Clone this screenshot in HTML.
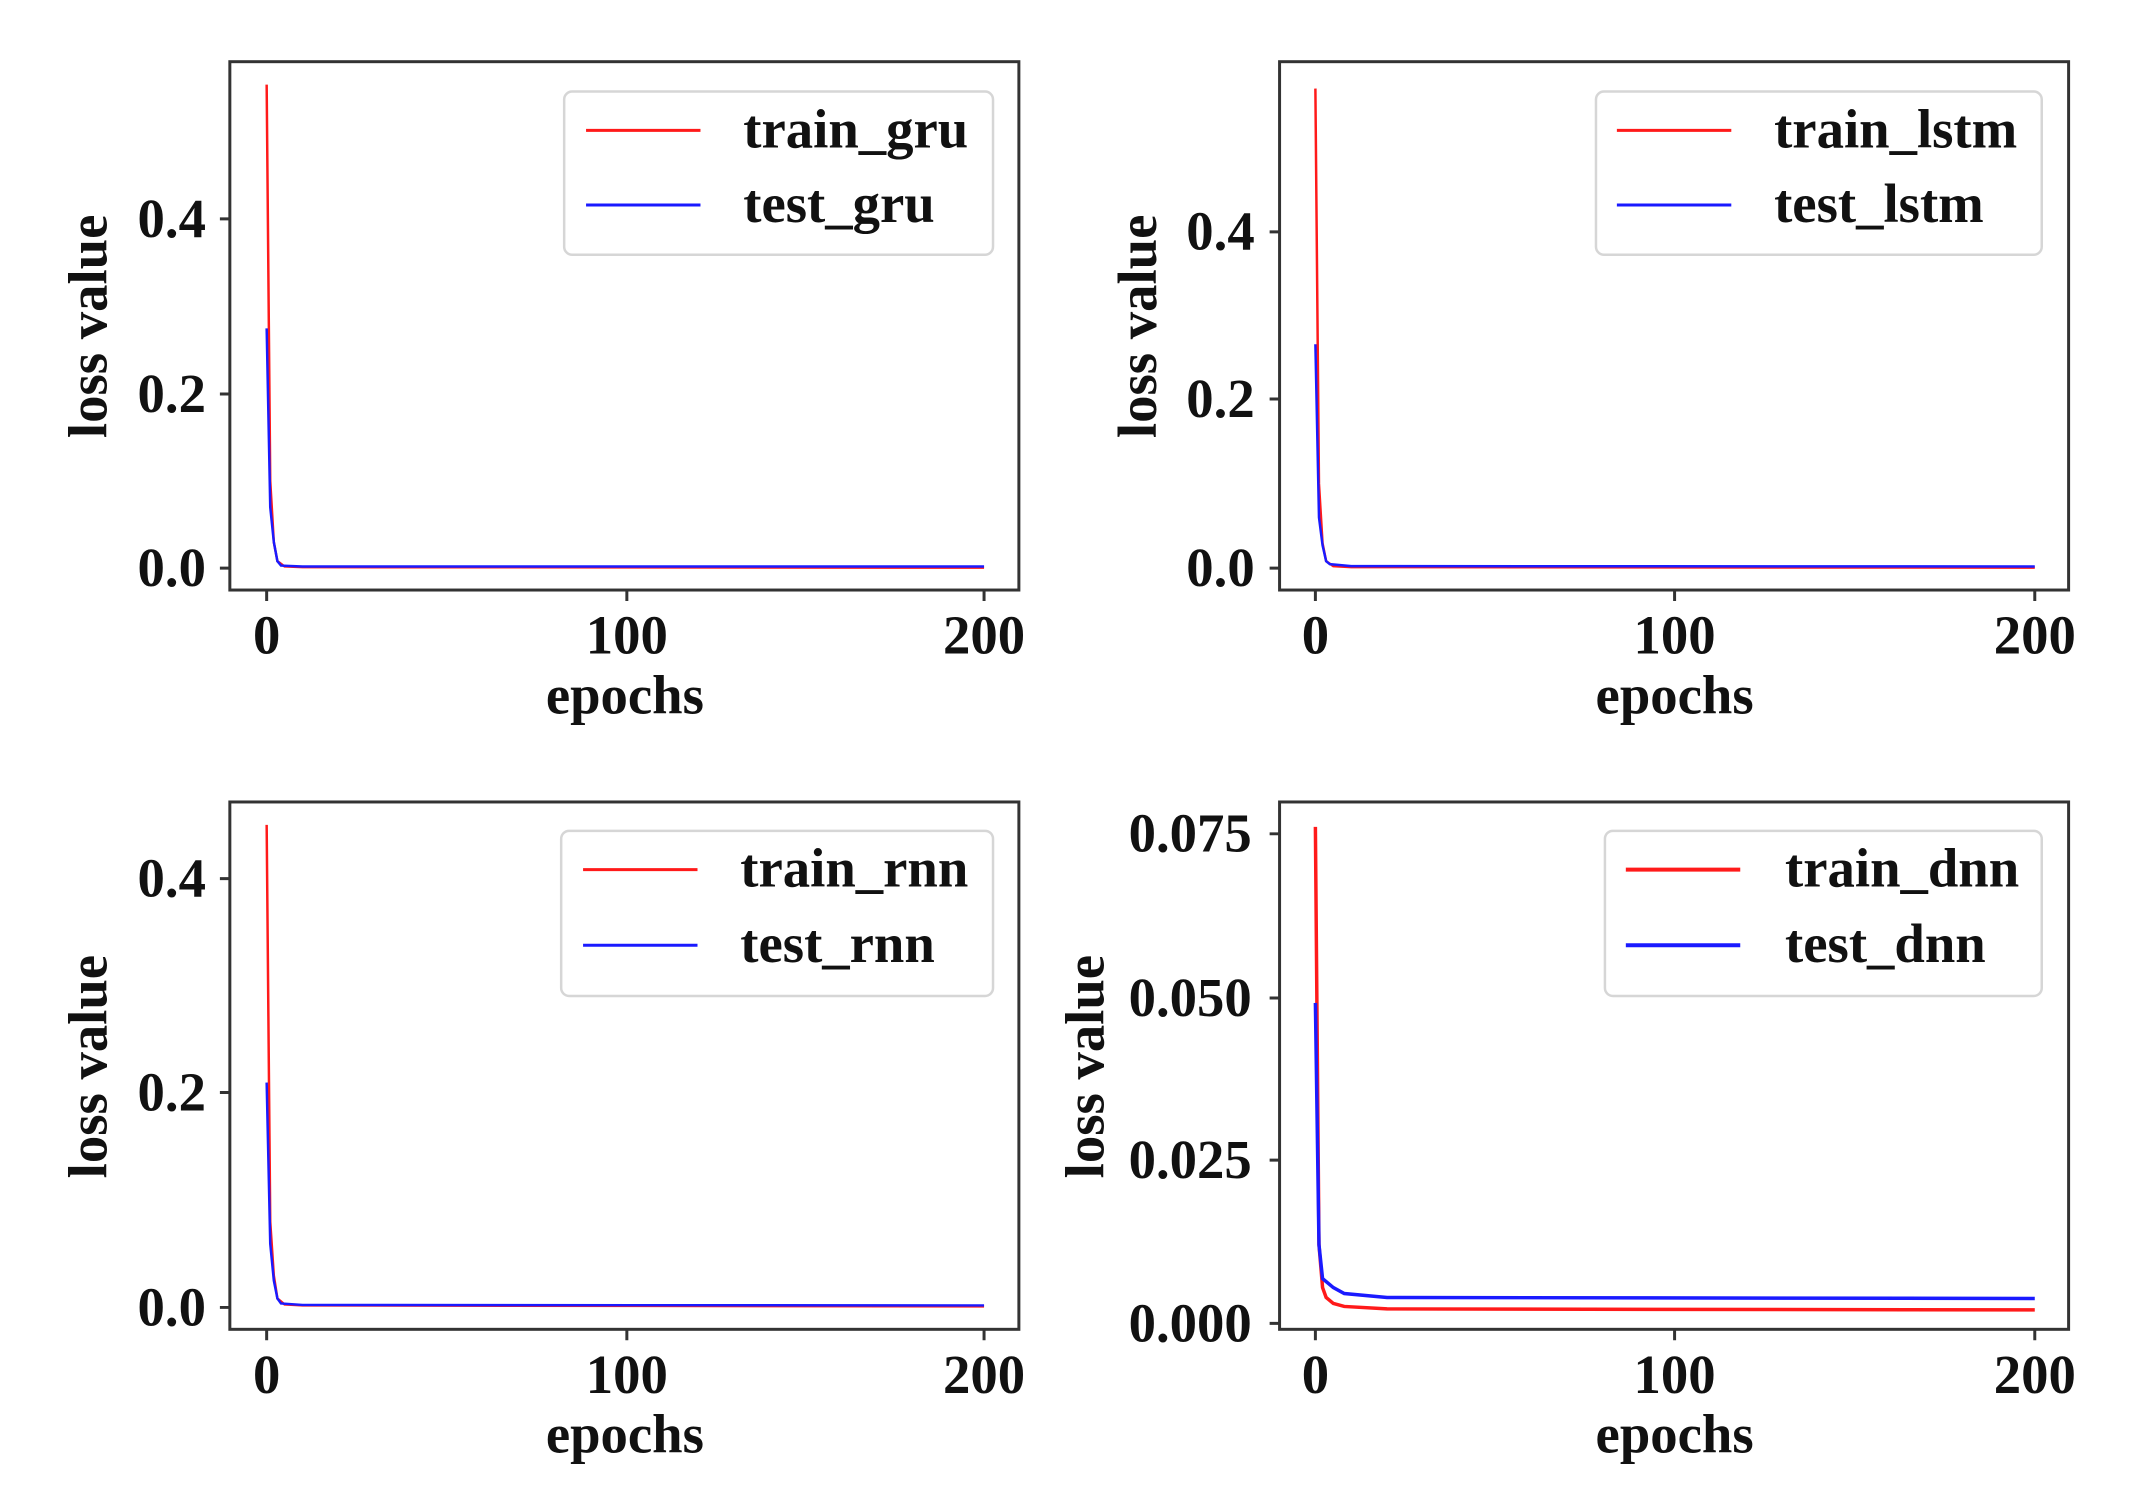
<!DOCTYPE html>
<html><head><meta charset="utf-8"><style>
html,body{margin:0;padding:0;background:#fff}
svg{display:block}
text{font-family:"Liberation Serif",serif;font-weight:bold;fill:#111;font-size:55px}
</style></head><body>
<svg width="2135" height="1507" viewBox="0 0 2135 1507" xmlns="http://www.w3.org/2000/svg">
<g transform="scale(0.995)">
<g fill="none" stroke-width="2.5">
<polyline stroke="#ff1a1a" points="268,85 271.6,483.5 275.2,544.8 278.8,564 286,569.3 304,570 989,570.5"/>
<polyline stroke="#1a1aff" points="268,330 271.6,509.8 275.2,544.8 278.8,564 282.4,568.4 304,569.3 989,569.3"/>
<polyline stroke="#ff1a1a" points="1322,89 1325.6,486 1329.2,546 1332.8,564 1340,569 1358,570 2045,570.5"/>
<polyline stroke="#1a1aff" points="1322,346 1325.6,520 1329.2,548 1332.8,564 1336.5,567 1358,569 2045,569.3"/>
<polyline stroke="#ff1a1a" points="268,829 271.6,1228 275.2,1282 278.8,1305 286,1311 304,1312 989,1313"/>
<polyline stroke="#1a1aff" points="268,1088 271.6,1250 275.2,1287 278.8,1305 282.4,1310 304,1311.5 989,1312"/>
<polyline stroke="#ff1a1a" stroke-width="3.5" points="1322,831 1325.6,1251 1329.2,1294 1332.8,1304 1340,1310 1351,1313 1394,1315.5 2045,1316.5"/>
<polyline stroke="#1a1aff" stroke-width="3.5" points="1322,1008 1325.6,1251 1329.2,1285 1340,1294 1351,1300 1394,1304 2045,1305"/>
</g>
<g fill="none" stroke="#333" stroke-width="3">
<rect x="231" y="62" width="793" height="531"/>
<rect x="1286" y="62" width="793" height="531"/>
<rect x="231" y="806" width="793" height="530"/>
<rect x="1286" y="806" width="793" height="530"/>
<path d="M268,593v11M630,593v11M989,593v11M221,571h10M221,396h10M221,220h10"/>
<path d="M1322,593v11M1683,593v11M2045,593v11M1276,571h10M1276,401h10M1276,233h10"/>
<path d="M268,1336v11M630,1336v11M989,1336v11M221,1314h10M221,1098h10M221,883h10"/>
<path d="M1322,1336v11M1683,1336v11M2045,1336v11M1276,1330h10M1276,1166h10M1276,1003h10M1276,838h10"/>
</g>
<g fill="#fff" stroke="#d6d6d6" stroke-width="2.5">
<rect x="567" y="92" width="431" height="164" rx="8"/>
<rect x="1604" y="92" width="448" height="164" rx="8"/>
<rect x="564" y="835" width="434" height="166" rx="8"/>
<rect x="1613" y="835" width="439" height="166" rx="8"/>
</g>
<g stroke-width="3">
<path stroke="#ff1a1a" d="M589,131h115M1625,131h115M586,874h115"/>
<path stroke="#1a1aff" d="M589,206h115M1625,206h115M586,950h115"/>
<path stroke="#ff1a1a" stroke-width="4" d="M1634,874h115"/>
<path stroke="#1a1aff" stroke-width="4" d="M1634,950h115"/>
</g>
<text x="747" y="148">train_gru</text>
<text x="747" y="223">test_gru</text>
<text x="1783" y="148">train_lstm</text>
<text x="1783" y="223">test_lstm</text>
<text x="744" y="891">train_rnn</text>
<text x="744" y="967">test_rnn</text>
<text x="1794" y="891">train_dnn</text>
<text x="1794" y="967">test_dnn</text>
<g text-anchor="end">
<text x="207" y="589">0.0</text><text x="207" y="414">0.2</text><text x="207" y="238">0.4</text>
<text x="1261" y="589">0.0</text><text x="1261" y="419">0.2</text><text x="1261" y="251">0.4</text>
<text x="207" y="1332">0.0</text><text x="207" y="1116">0.2</text><text x="207" y="901">0.4</text>
<text x="1258" y="1348">0.000</text><text x="1258" y="1184">0.025</text><text x="1258" y="1021">0.050</text><text x="1258" y="856">0.075</text>
</g>
<g text-anchor="middle">
<text x="268" y="657">0</text><text x="630" y="657">100</text><text x="989" y="657">200</text>
<text x="1322" y="657">0</text><text x="1683" y="657">100</text><text x="2045" y="657">200</text>
<text x="268" y="1400">0</text><text x="630" y="1400">100</text><text x="989" y="1400">200</text>
<text x="1322" y="1400">0</text><text x="1683" y="1400">100</text><text x="2045" y="1400">200</text>
<text x="628" y="717">epochs</text><text x="1683" y="717">epochs</text>
<text x="628" y="1460">epochs</text><text x="1683" y="1460">epochs</text>
<text transform="translate(107,328) rotate(-90)">loss value</text>
<text transform="translate(1162,328) rotate(-90)">loss value</text>
<text transform="translate(107,1072) rotate(-90)">loss value</text>
<text transform="translate(1109,1072) rotate(-90)">loss value</text>
</g>
</g>
</svg>
</body></html>
